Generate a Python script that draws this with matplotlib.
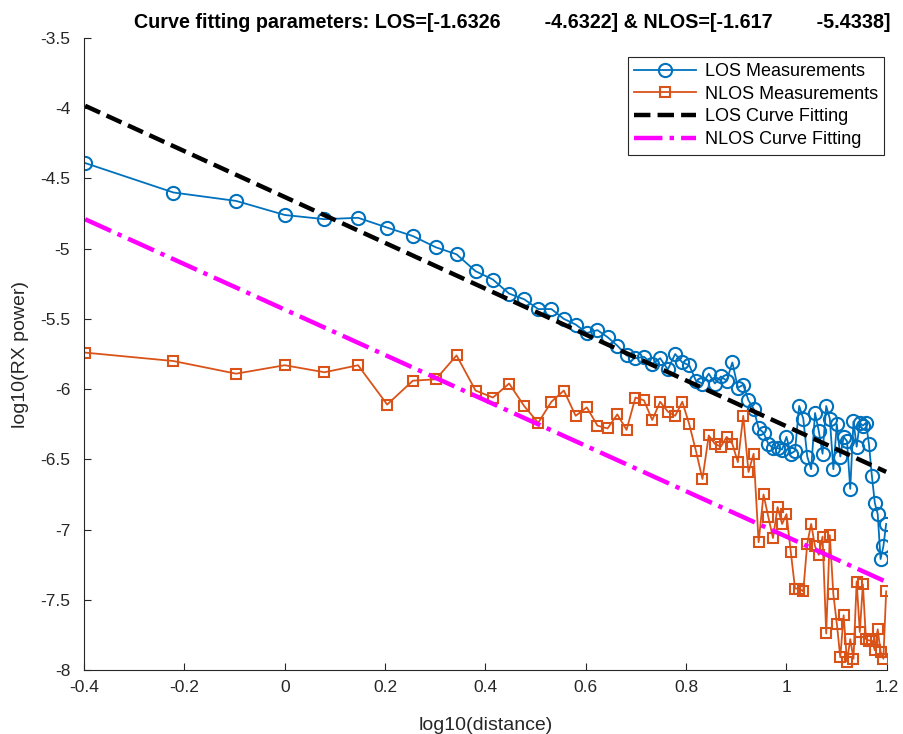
import numpy as np
import matplotlib
matplotlib.use('Agg')
import matplotlib.pyplot as plt

# distances (m) of the measurement points
distance = [0.4, 0.6, 0.8, 1.0, 1.2, 1.4, 1.6, 1.8, 2.0, 2.2,
            2.4, 2.6, 2.8, 3.0, 3.2, 3.4, 3.6, 3.8, 4.0, 4.2,
            4.4, 4.6, 4.8, 5.0, 5.2, 5.4, 5.6, 5.8, 6.0, 6.2,
            6.4, 6.6, 6.8, 7.0, 7.2, 7.4, 7.6, 7.8, 8.0, 8.2,
            8.4, 8.6, 8.8, 9.0, 9.2, 9.4, 9.6, 9.8, 10.0, 10.2,
            10.4, 10.6, 10.8, 11.0, 11.2, 11.4, 11.6, 11.8, 12.0, 12.2,
            12.4, 12.6, 12.8, 13.0, 13.2, 13.4, 13.6, 13.8, 14.0, 14.2,
            14.4, 14.6, 14.8, 15.0, 15.2, 15.4, 15.6, 15.8]

# log10(RX power), LOS
los_power = [-4.39, -4.60, -4.66, -4.76, -4.79, -4.78, -4.85, -4.91, -4.99, -5.04,
             -5.16, -5.22, -5.32, -5.36, -5.43, -5.43, -5.50, -5.54, -5.60, -5.58,
             -5.63, -5.69, -5.76, -5.78, -5.77, -5.82, -5.78, -5.86, -5.75, -5.81,
             -5.83, -5.94, -5.96, -5.89, -5.96, -5.91, -5.94, -5.81, -5.99, -5.97,
             -6.08, -6.14, -6.28, -6.31, -6.39, -6.42, -6.42, -6.43, -6.34, -6.46,
             -6.44, -6.12, -6.21, -6.48, -6.57, -6.17, -6.30, -6.46, -6.12, -6.21,
             -6.57, -6.25, -6.48, -6.34, -6.37, -6.71, -6.23, -6.41, -6.24, -6.26,
             -6.24, -6.39, -6.62, -6.81, -6.89, -7.21, -7.12, -6.96]

# log10(RX power), NLOS
nlos_power = [-5.74, -5.80, -5.89, -5.83, -5.88, -5.83, -6.11, -5.94, -5.93, -5.76,
              -6.01, -6.06, -5.96, -6.12, -6.24, -6.09, -6.01, -6.19, -6.13, -6.26,
              -6.28, -6.18, -6.29, -6.06, -6.08, -6.22, -6.09, -6.16, -6.19, -6.09,
              -6.25, -6.44, -6.64, -6.33, -6.39, -6.41, -6.34, -6.39, -6.52, -6.19,
              -6.59, -6.46, -7.09, -6.75, -6.91, -7.06, -6.84, -6.96, -6.89, -7.16,
              -7.42, -7.42, -7.44, -7.10, -6.96, -7.12, -7.18, -7.05, -7.74, -7.04,
              -7.46, -7.67, -7.91, -7.61, -7.94, -7.78, -7.92, -7.37, -7.73, -7.39,
              -7.78, -7.79, -7.79, -7.86, -7.71, -7.87, -7.92, -7.44]

# curve fitting parameters [slope intercept]
los_fit = [-1.6326, -4.6322]
nlos_fit = [-1.617, -5.4338]

plt.rcParams['font.family'] = ['Liberation Sans', 'DejaVu Sans']

x = np.log10(distance)
fig = plt.figure(figsize=(9.04, 7.34), dpi=100)
ax = fig.add_axes([0.093, 0.0872, 0.888, 0.861])

ax.plot(x, los_power, '-o', color='#0072BD', lw=1.3, ms=9.5, mfc='none', mew=1.5,
        label='LOS Measurements')
ax.plot(x, nlos_power, '-s', color='#D95319', lw=1.3, ms=6.5, mfc='none', mew=1.5,
        label='NLOS Measurements')
ax.plot(x, np.polyval(los_fit, x), '--', color='black', lw=3.2,
        label='LOS Curve Fitting')
ax.plot(x, np.polyval(nlos_fit, x), '-.', color='magenta', lw=3.2,
        label='NLOS Curve Fitting')

ax.set_xlim(-0.4, 1.2)
ax.set_ylim(-8, -3.5)
ax.set_xticks(np.arange(-0.4, 1.21, 0.2))
ax.set_xticklabels(['-0.4', '-0.2', '0', '0.2', '0.4', '0.6', '0.8', '1', '1.2'])
ax.set_yticks(np.arange(-8, -3.49, 0.5))
ax.set_yticklabels(['-8', '-7.5', '-7', '-6.5', '-6', '-5.5', '-5', '-4.5', '-4', '-3.5'])
ax.tick_params(direction='in', labelsize=12.5, colors='#262626', length=5)
ax.tick_params(axis='y', pad=10)
ax.tick_params(axis='x', pad=7)
for s in ['top', 'right']:
    ax.spines[s].set_visible(False)
for s in ['left', 'bottom']:
    ax.spines[s].set_color('#262626')

ax.set_xlabel('log10(distance)', fontsize=14, color='#262626', labelpad=16)
ax.set_ylabel('log10(RX power)', fontsize=14, color='#262626', labelpad=8)
ax.set_title('Curve fitting parameters: LOS=[-1.6326        -4.6322] & NLOS=[-1.617        -5.4338]',
             fontsize=14.2, fontweight='bold', pad=7, x=0.533)

leg = ax.legend(loc='upper right', bbox_to_anchor=(1.008, 0.985), fontsize=13,
                fancybox=False, edgecolor='#262626', framealpha=1,
                handlelength=3.4, borderpad=0.35, labelspacing=0.32, handletextpad=0.5)
leg.get_frame().set_linewidth(0.8)

fig.savefig('out.png', dpi=100)
